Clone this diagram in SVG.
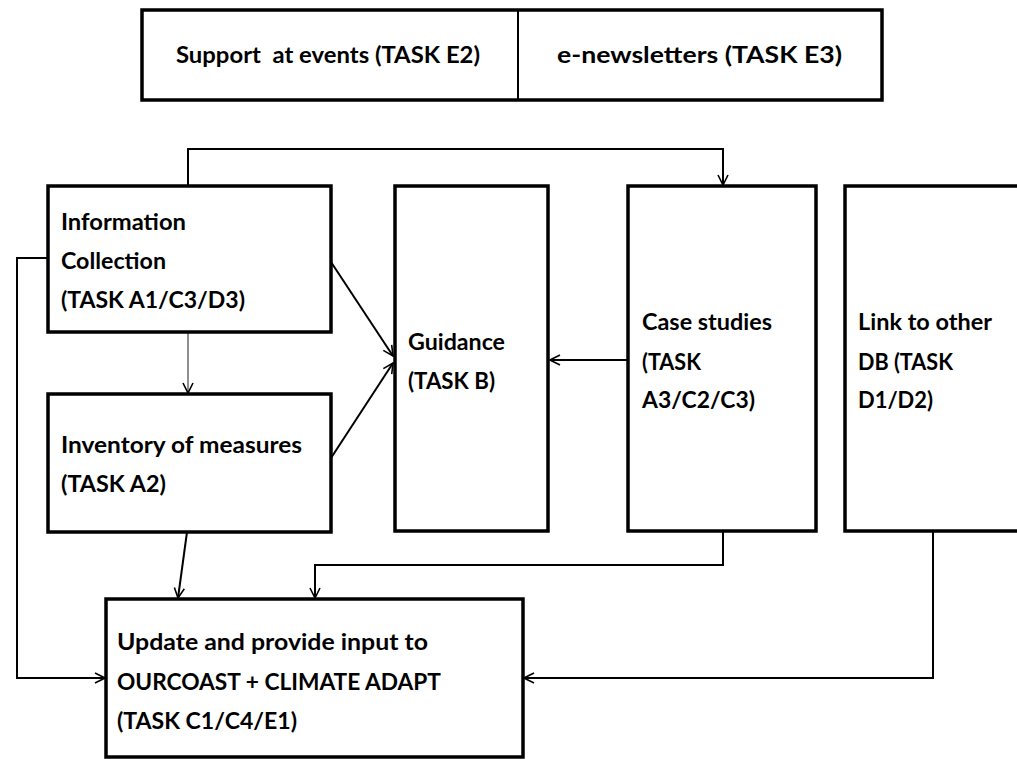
<svg xmlns="http://www.w3.org/2000/svg" width="1017" height="759" viewBox="0 0 1017 759">
<style>
.box{fill:#fff;stroke:#000;stroke-width:3.5}
.t{font-family:Lato,"Open Sans","Liberation Sans",sans-serif;font-weight:bold;font-size:23px;fill:#000}
.c{fill:none;stroke:#000;stroke-width:2}
.thin{fill:none;stroke:#444;stroke-width:1.2}
</style>
<defs>
<marker id="ah" viewBox="0 0 12 12" refX="11" refY="6" markerWidth="12" markerHeight="12" markerUnits="userSpaceOnUse" orient="auto">
<path d="M1,1 L11,6 L1,11" fill="none" stroke="#000" stroke-width="1.6"/>
</marker>
</defs>
<rect width="1017" height="759" fill="#fff"/>
<g id="top-bar">
<rect class="box" x="142" y="10" width="740" height="90"/>
<line x1="518" y1="10" x2="518" y2="100" stroke="#000" stroke-width="2"/>
<text class="t" x="176" y="63" textLength="304" lengthAdjust="spacingAndGlyphs" xml:space="preserve">Support  at events (TASK E2)</text>
<text class="t" x="557" y="63" textLength="285" lengthAdjust="spacingAndGlyphs">e-newsletters (TASK E3)</text>
</g>
<g id="connectors">
<path class="c" d="M188,186 V149 H723 V185" marker-end="url(#ah)"/>
<path class="c" d="M48,258 H17 V678 H105" marker-end="url(#ah)"/>
<path class="c" d="M331,262 L393,356" marker-end="url(#ah)"/>
<path class="c" d="M331,458 L393,363" marker-end="url(#ah)"/>
<path class="thin" d="M188,332 V393" marker-end="url(#ah)"/>
<path class="c" d="M187,532 L178,598" marker-end="url(#ah)"/>
<path class="c" d="M723,531 V565 H315 V598" marker-end="url(#ah)"/>
<path class="c" d="M628,360 H550" marker-end="url(#ah)"/>
<path class="c" d="M933,531 V678 H524" stroke="#333" marker-end="url(#ah)"/>
</g>
<g id="info-collection">
<rect class="box" x="48" y="186" width="283" height="146"/>
<text class="t" x="61" y="230" textLength="125" lengthAdjust="spacingAndGlyphs">Information</text>
<text class="t" x="61" y="269" textLength="105" lengthAdjust="spacingAndGlyphs">Collection</text>
<text class="t" x="61" y="308" textLength="184" lengthAdjust="spacingAndGlyphs">(TASK A1/C3/D3)</text>
</g>
<g id="inventory">
<rect class="box" x="48" y="394" width="283" height="138"/>
<text class="t" x="61" y="453" textLength="241" lengthAdjust="spacingAndGlyphs">Inventory of measures</text>
<text class="t" x="61" y="492" textLength="105" lengthAdjust="spacingAndGlyphs">(TASK A2)</text>
</g>
<g id="guidance">
<rect class="box" x="395" y="186" width="153" height="345"/>
<text class="t" x="408" y="350" textLength="97" lengthAdjust="spacingAndGlyphs">Guidance</text>
<text class="t" x="408" y="389" textLength="87" lengthAdjust="spacingAndGlyphs">(TASK B)</text>
</g>
<g id="case-studies">
<rect class="box" x="628" y="186" width="188" height="345"/>
<text class="t" x="642" y="330" textLength="130" lengthAdjust="spacingAndGlyphs">Case studies</text>
<text class="t" x="642" y="370" textLength="59" lengthAdjust="spacingAndGlyphs">(TASK</text>
<text class="t" x="642" y="408" textLength="113" lengthAdjust="spacingAndGlyphs">A3/C2/C3)</text>
</g>
<g id="link-db">
<rect class="box" x="845" y="186" width="200" height="345"/>
<text class="t" x="858" y="330" textLength="134" lengthAdjust="spacingAndGlyphs">Link to other</text>
<text class="t" x="858" y="370" textLength="95" lengthAdjust="spacingAndGlyphs">DB (TASK</text>
<text class="t" x="858" y="408" textLength="75" lengthAdjust="spacingAndGlyphs">D1/D2)</text>
</g>
<g id="update">
<rect class="box" x="106" y="599" width="417" height="158"/>
<text class="t" x="117" y="650" textLength="311" lengthAdjust="spacingAndGlyphs">Update and provide input to</text>
<text class="t" x="117" y="690" textLength="324" lengthAdjust="spacingAndGlyphs">OURCOAST + CLIMATE ADAPT</text>
<text class="t" x="117" y="729" textLength="180" lengthAdjust="spacingAndGlyphs">(TASK C1/C4/E1)</text>
</g>
</svg>
